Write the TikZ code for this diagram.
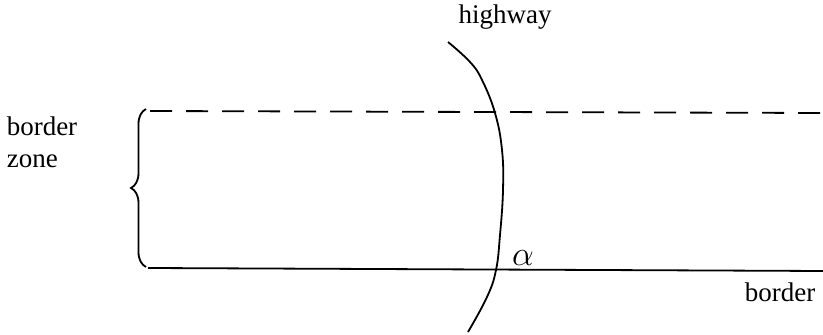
\documentclass[tikz,border=0pt]{standalone}
\usepackage{fontspec}
\setmainfont{Liberation Serif}
\usetikzlibrary{decorations.pathreplacing}

\begin{document}
\begin{tikzpicture}[x=0.5pt, y=-0.5pt,
    lbl/.style={inner sep=0pt, font=\fontsize{13.5}{16}\selectfont},
    zoneline/.style={line width=0.9pt},
    road/.style={line width=0.9pt}
]
\useasboundingbox (0,0) rectangle (823,335);

% labels
\node[lbl] (hwy) at (505,17) {highway};
\node[lbl, align=left] (zone) at (42,142) {border\\zone};
\node[lbl] (brd) at (780,292) {border};
\node[lbl, font=\fontsize{17}{20}\selectfont] (ang) at (523,258) {$\alpha$};

% border zone limits
\coordinate (dl) at (150,111);
\coordinate (dr) at (823,113);
\coordinate (bl) at (148,268);
\coordinate (br) at (823,271);
\draw[zoneline, dash pattern=on 11pt off 7pt] (dl) -- (dr);
\draw[zoneline] (bl) -- (br);
\draw[zoneline, decorate, decoration={brace, amplitude=7.5pt}] (146,267) -- (146,109);

% highway
\draw[road] plot[smooth, tension=0.7] coordinates {(448,42) (470,62) (482,80) (495,113) (502,150) (503,190) (500,235) (496,270) (487,297) (468,332)};
\end{tikzpicture}
\end{document}
